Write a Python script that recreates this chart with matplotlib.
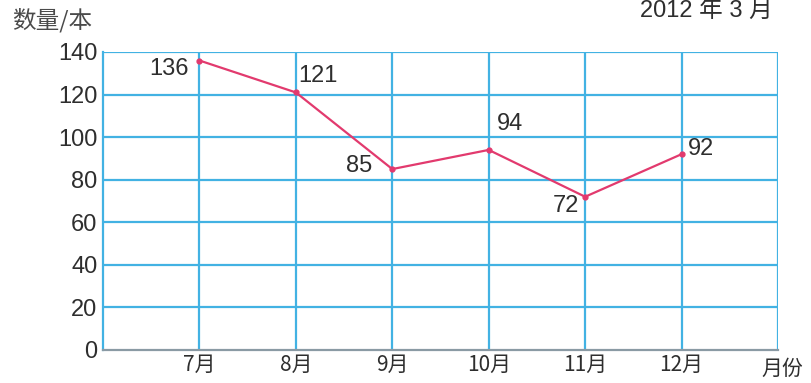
import matplotlib
matplotlib.use("Agg")
import matplotlib.pyplot as plt

plt.rcParams['font.family'] = ['Noto Sans CJK SC', 'DejaVu Sans']

months = ["7月", "8月", "9月", "10月", "11月", "12月"]
counts = [136, 121, 85, 94, 72, 92]
y_ticks = [0, 20, 40, 60, 80, 100, 120, 140]
# label offsets (points) for each value annotation
label_offsets = [(-22, -6), (16, 12), (-24, 2), (15, 19), (-14, -7), (14, 3.5)]

blue = "#42b2e3"
red = "#e23a6e"
text_col = "#2e2e2e"

fig = plt.figure(figsize=(8.12, 3.83), dpi=100)
ax = fig.add_axes([103 / 812, 1 - 350 / 383, (778 - 103) / 812, (350 - 52) / 383])

xs = list(range(1, len(months) + 1))
ax.set_xlim(0, len(months) + 1)
ax.set_ylim(0, 140)

for y in y_ticks[1:]:
    ax.axhline(y, color=blue, lw=1.6, zorder=1)
for x in xs + [len(months) + 1]:
    ax.axvline(x, color=blue, lw=1.6, zorder=1)

for side in ["top", "right"]:
    ax.spines[side].set_visible(False)
ax.spines["left"].set_color(blue)
ax.spines["left"].set_linewidth(1.6)
ax.spines["bottom"].set_color("#8a9aa4")
ax.spines["bottom"].set_linewidth(1.6)

ax.plot(xs, counts, color=red, lw=1.6, marker="o", ms=3.5, zorder=3)
for x, v, off in zip(xs, counts, label_offsets):
    ax.annotate(str(v), (x, v), xytext=off, textcoords="offset points",
                ha="center", va="center", fontsize=17, color=text_col,
                family="Liberation Sans")

ax.set_yticks(y_ticks)
ax.set_yticklabels([str(t) for t in y_ticks], fontsize=17, color=text_col,
                   family="Liberation Sans")
ax.set_xticks(xs)
ax.set_xticklabels(months, fontsize=15, color=text_col)
ax.tick_params(axis="both", length=0)
ax.tick_params(axis="y", pad=4)
ax.tick_params(axis="x", pad=3)

fig.text(782 / 812, 1 - 369 / 383, "月份", fontsize=15, color=text_col,
         ha="center", va="center")
fig.text(52 / 812, 1 - 20 / 383, "数量/本", fontsize=17, color="#4a4a4a",
         ha="center", va="center")
fig.text(706 / 812, 1 - 1 / 383, "2012 年 3 月", fontsize=17, color=text_col,
         ha="center", va="top", family=["Liberation Sans", "Noto Sans CJK SC"])

fig.savefig("out.png", dpi=100, facecolor="white")
